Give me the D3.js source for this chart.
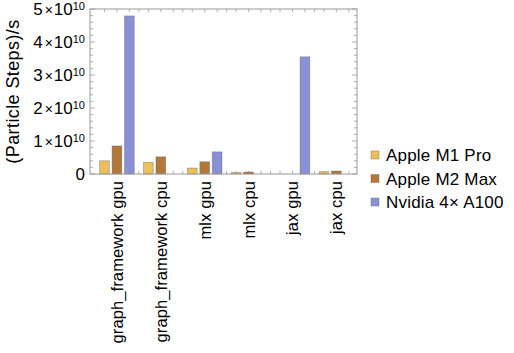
<!DOCTYPE html>
<html>
<head>
<meta charset="utf-8">
<script src="https://cdn.jsdelivr.net/npm/d3@7"></script>
<style>
  body { margin: 0; background: #fff; }
  svg { font-family: 'Liberation Sans', Arial, sans-serif; }
</style>
</head>
<body>
<svg width="514" height="353"></svg>
<script>
const categories = ['graph_framework gpu', 'graph_framework cpu', 'mlx gpu', 'mlx cpu', 'jax gpu', 'jax cpu'];
const seriesNames = ['Apple M1 Pro', 'Apple M2 Max', 'Nvidia 4\u00d7 A100'];
const m1Pro = [0.40e10, 0.355e10, 0.18e10, 0.05e10, null, 0.07e10];
const m2Max = [0.85e10, 0.52e10, 0.37e10, 0.06e10, null, 0.09e10];
const nvidia = [4.79e10, null, 0.67e10, null, 3.55e10, null];
const yTicks = [0, 1, 2, 3, 4, 5];
const colors = ['#eabf5c', '#b4773a', '#8a90d6'];

const svg = d3.select('svg');
const frame = { left: 90, right: 357, top: 9, bottom: 174 };

const x = d3.scaleBand()
  .domain(categories)
  .range([95, 358.3])
  .paddingInner(0.212)
  .paddingOuter(0.106);

const xInner = d3.scaleBand()
  .domain(seriesNames)
  .range([0, x.bandwidth()])
  .paddingInner(0.22)
  .paddingOuter(0);

const y = d3.scaleLinear()
  .domain([0, 5e10])
  .range([frame.bottom, frame.top]);

const series = [m1Pro, m2Max, nvidia];

// minor / major ticks on left and right
const g = svg.append('g');
const minor = d3.range(0, 5.01e10, 0.2e10);
minor.forEach(v => {
  const isMajor = Math.abs(v / 1e10 - Math.round(v / 1e10)) < 1e-6;
  const len = isMajor ? 5 : 3;
  g.append('line').attr('x1', frame.left).attr('x2', frame.left + len)
    .attr('y1', y(v)).attr('y2', y(v)).attr('stroke', '#999').attr('stroke-width', 0.8);
  g.append('line').attr('x1', frame.right).attr('x2', frame.right - len)
    .attr('y1', y(v)).attr('y2', y(v)).attr('stroke', '#999').attr('stroke-width', 0.8);
});

// x ticks at every slot center and at gap midpoints
const xTickPos = [];
categories.forEach((c, i) => {
  seriesNames.forEach(s => xTickPos.push(x(c) + xInner(s) + xInner.bandwidth() / 2));
  if (i < categories.length - 1) {
    const end = x(c) + x.bandwidth();
    xTickPos.push((end + x(categories[i + 1])) / 2);
  }
});
xTickPos.forEach(px => {
  g.append('line').attr('x1', px).attr('x2', px)
    .attr('y1', frame.bottom).attr('y2', frame.bottom - 3)
    .attr('stroke', '#999').attr('stroke-width', 0.8);
  g.append('line').attr('x1', px).attr('x2', px)
    .attr('y1', frame.top).attr('y2', frame.top + 3)
    .attr('stroke', '#999').attr('stroke-width', 0.8);
});

// bars
series.forEach((vals, si) => {
  svg.append('g').selectAll('rect')
    .data(vals.map((v, i) => ({ cat: categories[i], v })).filter(d => d.v !== null))
    .join('rect')
    .attr('x', d => x(d.cat) + xInner(seriesNames[si]))
    .attr('y', d => y(d.v))
    .attr('width', xInner.bandwidth())
    .attr('height', d => y(0) - y(d.v))
    .attr('fill', colors[si])
    .attr('stroke', 'rgba(90,90,90,0.45)')
    .attr('stroke-width', 0.8);
});

// frame
svg.append('rect')
  .attr('x', frame.left).attr('y', frame.top)
  .attr('width', frame.right - frame.left).attr('height', frame.bottom - frame.top)
  .attr('fill', 'none').attr('stroke', '#999').attr('stroke-width', 1);

// y tick labels
yTicks.forEach(t => {
  const txt = svg.append('text')
    .attr('x', frame.left - 5)
    .attr('y', y(t * 1e10) + 6)
    .attr('text-anchor', 'end')
    .attr('font-size', 17)
    .attr('fill', '#000');
  if (t === 0) {
    txt.text('0');
  } else {
    txt.append('tspan').text(t);
    txt.append('tspan').attr('dx', 2).attr('font-size', 14).text('\u00d7');
    txt.append('tspan').attr('dx', 1).text('10');
    txt.append('tspan').attr('font-size', 11).attr('dy', -5).text('10');
  }
});

// y axis title
svg.append('text')
  .attr('transform', `translate(19, ${(frame.top + frame.bottom) / 2}) rotate(-90)`)
  .attr('text-anchor', 'middle')
  .attr('font-size', 18)
  .attr('letter-spacing', 0.4)
  .text('(Particle Steps)/s');

// x labels
categories.forEach(c => {
  svg.append('text')
    .attr('transform', `translate(${x(c) + x.bandwidth() / 2 + 6}, ${frame.bottom + 7}) rotate(-90)`)
    .attr('text-anchor', 'end')
    .attr('font-size', 16.5)
    .attr('letter-spacing', 0.1)
    .text(c);
});

// legend
const legend = svg.append('g').attr('transform', 'translate(371, 151)');
seriesNames.forEach((s, i) => {
  const row = legend.append('g').attr('transform', `translate(0, ${i * 23.5})`);
  row.append('rect').attr('x', 0).attr('y', 0).attr('width', 8).attr('height', 8)
    .attr('fill', colors[i]).attr('stroke', 'rgba(90,90,90,0.45)').attr('stroke-width', 0.8);
  row.append('text').attr('x', 15).attr('y', 10).attr('font-size', 17)
    .attr('letter-spacing', 0.2).text(s);
});
</script>
</body>
</html>
